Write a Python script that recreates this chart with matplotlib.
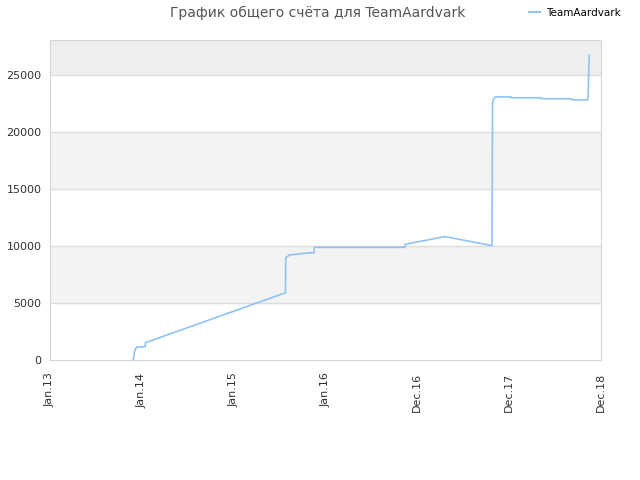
import matplotlib
matplotlib.use("Agg")
import matplotlib.pyplot as plt
from matplotlib.lines import Line2D

# Подписи оси X (равномерно расставленные метки)
tick_labels = ["Jan.13", "Jan.14", "Jan.15", "Jan.16", "Dec.16", "Dec.17", "Dec.18"]

# Позиции точек в единицах меток (0 = Jan.13 ... 6 = Dec.18) и значения счёта
pos = [0.908, 0.920, 0.931, 0.948, 1.037, 1.040, 2.564, 2.567, 2.607, 2.803,
       2.874, 2.879, 3.866, 3.869, 4.301, 4.813, 4.819, 4.830, 4.849, 5.020,
       5.023, 5.346, 5.349, 5.683, 5.686, 5.853, 5.861, 5.864, 5.872]
score = [0, 700, 965, 1140, 1170, 1520, 5900, 8970, 9210, 9390,
         9410, 9880, 9880, 10150, 10830, 10030, 22520, 22870, 23080, 23080,
         23000, 23000, 22920, 22920, 22820, 22820, 23250, 24560, 26750]

team = "TeamAardvark"
line_color = "#90c3f5"

fig = plt.figure(figsize=(6.4, 4.8), dpi=100)
ax = fig.add_axes([50 / 640, 120 / 480, 551 / 640, 320 / 480])

ymax = 28070
ax.set_xlim(0, 6)
ax.set_ylim(0, ymax)

# Полосы фона
ax.axhspan(25000, ymax, color="#eeeeee", zorder=0, lw=0)
ax.axhspan(15000, 20000, color="#f3f3f3", zorder=0, lw=0)
ax.axhspan(5000, 10000, color="#f3f3f3", zorder=0, lw=0)
for v in range(5000, 25001, 5000):
    ax.axhline(v, color="#dddddd", lw=1, zorder=1)

ax.plot(pos, score, color=line_color, lw=1.2, zorder=3)

ax.set_yticks(range(0, 25001, 5000))
ax.set_yticklabels([str(v) for v in range(0, 25001, 5000)])
ax.set_xticks(range(len(tick_labels)))
ax.set_xticklabels(tick_labels, rotation=90)
ax.tick_params(axis="y", length=0, labelsize=8, colors="#333333", pad=6)
ax.tick_params(axis="x", length=0, labelsize=8, colors="#333333", pad=9)
for s in ax.spines.values():
    s.set_color("#d6d6d6")

fig.text(318 / 640, 1 - 13 / 480, "График общего счёта для " + team,
         ha="center", va="center", fontsize=10, color="#555555")

fig.legend(handles=[Line2D([], [], color=line_color, lw=1.5)], labels=[team],
           loc="center left", bbox_to_anchor=(520 / 640, 1 - 13 / 480),
           frameon=False, fontsize=7.5, handlelength=1, handletextpad=0.6)

fig.savefig("out.png", dpi=100)
